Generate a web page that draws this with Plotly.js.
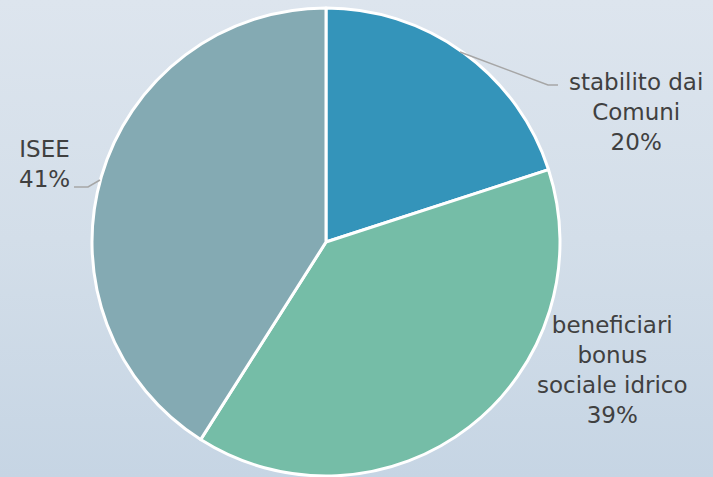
<!DOCTYPE html>
<html>
<head>
<meta charset="utf-8">
<script src="https://cdn.plot.ly/plotly-3.0.1.min.js"></script>
<style>
html,body{margin:0;padding:0;}
body{width:713px;height:477px;background:linear-gradient(to bottom,#dde5ee 0%,#d3dee9 50%,#c6d5e4 100%);}
#chart{width:713px;height:477px;}
</style>
</head>
<body>
<div id="chart"></div>
<script>
const labels = ["stabilito dai Comuni", "beneficiari bonus sociale idrico", "ISEE"];
const labelLines = ["stabilito dai<br>Comuni", "beneficiari<br>bonus<br>sociale idrico", "ISEE"];
const values = [20, 39, 41];
const colors = ["#3494BA", "#75BDA7", "#84AAB3"];

const W = 713, H = 477;
const px = x => x / W, py = y => 1 - y / H;
const total = values.reduce((a, b) => a + b, 0);
const pct = values.map(v => Math.round(v / total * 100) + "%");

// label placement (pixel centres) and alignment
const labelPos = [
  {x: 636, y: 112, align: "center"},
  {x: 612, y: 370, align: "center"},
  {x: 44, y: 164, align: "center"}
];

const annotations = labels.map((l, i) => ({
  x: px(labelPos[i].x), y: py(labelPos[i].y), xref: "paper", yref: "paper",
  text: labelLines[i] + "<br>" + pct[i], showarrow: false, align: labelPos[i].align,
  xanchor: "center", yanchor: "middle",
  font: {family: "DejaVu Sans, sans-serif", size: 23, color: "#404040"}
}));

const leader = (pts) => ({
  type: "path", xref: "paper", yref: "paper",
  path: "M" + pts.map(p => px(p[0]) + "," + py(p[1])).join(" L"),
  line: {color: "#A6A6A6", width: 1.5}
});

const shapes = [
  leader([[460, 52], [548, 85], [558, 85]]),
  leader([[74, 187], [88, 187], [100, 180]])
];

const r = 234, cx = 326, cy = 242;
const data = [{
  type: "pie",
  labels: labels,
  values: values,
  sort: false,
  direction: "clockwise",
  rotation: 0,
  textinfo: "none",
  hoverinfo: "label+percent",
  marker: {colors: colors, line: {color: "#FFFFFF", width: 3}},
  domain: {x: [(cx - r) / W, (cx + r) / W], y: [(H - cy - r) / H, (H - cy + r) / H]},
  showlegend: false
}];

const layout = {
  width: W, height: H,
  margin: {l: 0, r: 0, t: 0, b: 0},
  paper_bgcolor: "rgba(0,0,0,0)",
  plot_bgcolor: "rgba(0,0,0,0)",
  showlegend: false,
  annotations: annotations,
  shapes: shapes
};

Plotly.newPlot("chart", data, layout, {displayModeBar: false, staticPlot: true});
</script>
</body>
</html>
